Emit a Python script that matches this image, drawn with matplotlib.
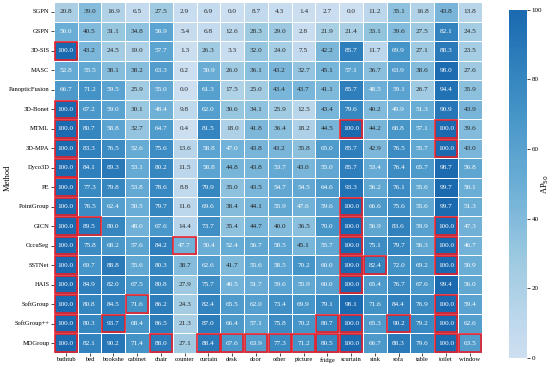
import matplotlib
matplotlib.use("Agg")
import matplotlib.pyplot as plt
import numpy as np
import pandas as pd
import seaborn as sns
from matplotlib.colors import LinearSegmentedColormap
from matplotlib.patches import Rectangle

plt.rcParams['font.family'] = ['Liberation Serif', 'DejaVu Serif']

methods = ['SGPN', 'GSPN', '3D-SIS', 'MASC', 'PanopticFusion', '3D-Bonet', 'MTML',
           '3D-MPA', 'Dyco3D', 'PE', 'PointGroup', 'GICN', 'OccuSeg', 'SSTNet',
           'HAIS', 'SoftGroup', 'SoftGroup++', 'MDGroup']
classes = ['bathtub', 'bed', 'bookshe', 'cabinet', 'chair', 'counter', 'curtain', 'desk',
           'door', 'other', 'picture', 'fridge', 'scurtain', 'sink', 'sofa', 'table',
           'toilet', 'window']

sgpn = [20.8, 39.0, 16.9, 6.5, 27.5, 2.9, 6.9, 0.0, 8.7, 4.3, 1.4, 2.7, 0.0, 11.2, 35.1, 16.8, 43.8, 13.8]
gspn = [50.0, 40.5, 31.1, 34.8, 58.9, 5.4, 6.8, 12.6, 28.3, 29.0, 2.8, 21.9, 21.4, 33.1, 39.6, 27.5, 82.1, 24.5]
sis3d = [100.0, 43.2, 24.5, 19.0, 57.7, 1.3, 26.3, 3.3, 32.0, 24.0, 7.5, 42.2, 85.7, 11.7, 69.9, 27.1, 88.3, 23.5]
masc = [52.8, 55.5, 38.1, 38.2, 63.3, 0.2, 50.9, 26.0, 36.1, 43.2, 32.7, 45.1, 57.1, 36.7, 63.9, 38.6, 98.0, 27.6]
panoptic = [66.7, 71.2, 59.5, 25.9, 55.0, 0.0, 61.3, 17.5, 25.0, 43.4, 43.7, 41.1, 85.7, 48.5, 59.1, 26.7, 94.4, 35.9]
bonet = [100.0, 67.2, 59.0, 30.1, 48.4, 9.8, 62.0, 30.6, 34.1, 25.9, 12.5, 43.4, 79.6, 40.2, 49.9, 51.3, 90.9, 43.9]
mtml = [100.0, 80.7, 58.8, 32.7, 64.7, 0.4, 81.5, 18.0, 41.8, 36.4, 18.2, 44.5, 100.0, 44.2, 68.8, 57.1, 100.0, 39.6]
mpa3d = [100.0, 83.3, 76.5, 52.6, 75.6, 13.6, 58.8, 47.0, 43.8, 43.2, 35.8, 65.0, 85.7, 42.9, 76.5, 55.7, 100.0, 43.0]
dyco = [100.0, 84.1, 89.3, 53.1, 80.2, 11.5, 58.8, 44.8, 43.8, 53.7, 43.0, 55.0, 85.7, 53.4, 76.4, 65.7, 98.7, 56.8]
pe = [100.0, 77.3, 79.8, 53.8, 78.6, 8.8, 79.9, 35.0, 43.5, 54.7, 54.5, 64.6, 93.3, 56.2, 76.1, 55.6, 99.7, 50.1]
pointgroup = [100.0, 76.5, 62.4, 50.5, 79.7, 11.6, 69.6, 38.4, 44.1, 55.9, 47.6, 59.6, 100.0, 66.6, 75.6, 55.6, 99.7, 51.3]
gicn = [100.0, 89.5, 80.0, 48.0, 67.6, 14.4, 73.7, 35.4, 44.7, 40.0, 36.5, 70.0, 100.0, 56.9, 83.6, 59.9, 100.0, 47.3]
occuseg = [100.0, 75.8, 68.2, 57.6, 84.2, 47.7, 50.4, 52.4, 56.7, 58.5, 45.1, 55.7, 100.0, 75.1, 79.7, 56.3, 100.0, 46.7]
sstnet = [100.0, 69.7, 88.8, 55.6, 80.3, 38.7, 62.6, 41.7, 55.6, 58.5, 70.2, 60.0, 100.0, 82.4, 72.0, 69.2, 100.0, 50.9]
hais = [100.0, 84.9, 82.0, 67.5, 80.8, 27.9, 75.7, 46.5, 51.7, 59.6, 55.9, 60.0, 100.0, 65.4, 76.7, 67.6, 99.4, 56.0]
softgroup = [100.0, 80.8, 84.5, 71.6, 86.2, 24.3, 82.4, 65.5, 62.0, 73.4, 69.9, 79.1, 98.1, 71.6, 84.4, 76.9, 100.0, 59.4]
softgroup_pp = [100.0, 80.3, 93.7, 68.4, 86.5, 21.3, 87.0, 66.4, 57.1, 75.8, 70.2, 80.7, 100.0, 65.3, 90.2, 79.2, 100.0, 62.6]
mdgroup = [100.0, 82.1, 90.2, 71.4, 88.0, 27.1, 88.4, 67.6, 63.9, 77.3, 71.2, 80.5, 100.0, 66.7, 88.3, 79.6, 100.0, 63.5]

# cells outlined in red (best results)
boxed = [
    ('3D-SIS', 'bathtub'), ('3D-Bonet', 'bathtub'),
    ('MTML', 'bathtub'), ('MTML', 'scurtain'), ('MTML', 'toilet'),
    ('3D-MPA', 'bathtub'), ('3D-MPA', 'toilet'),
    ('Dyco3D', 'bathtub'), ('PE', 'bathtub'),
    ('PointGroup', 'bathtub'), ('PointGroup', 'scurtain'),
    ('GICN', 'bathtub'), ('GICN', 'bed'), ('GICN', 'scurtain'), ('GICN', 'toilet'),
    ('OccuSeg', 'bathtub'), ('OccuSeg', 'counter'), ('OccuSeg', 'scurtain'), ('OccuSeg', 'toilet'),
    ('SSTNet', 'bathtub'), ('SSTNet', 'scurtain'), ('SSTNet', 'sink'), ('SSTNet', 'toilet'),
    ('HAIS', 'bathtub'), ('HAIS', 'scurtain'),
    ('SoftGroup', 'bathtub'), ('SoftGroup', 'cabinet'), ('SoftGroup', 'toilet'),
    ('SoftGroup++', 'bathtub'), ('SoftGroup++', 'bookshe'), ('SoftGroup++', 'fridge'),
    ('SoftGroup++', 'scurtain'), ('SoftGroup++', 'sofa'), ('SoftGroup++', 'toilet'),
    ('MDGroup', 'bathtub'), ('MDGroup', 'chair'), ('MDGroup', 'curtain'), ('MDGroup', 'desk'),
    ('MDGroup', 'door'), ('MDGroup', 'other'), ('MDGroup', 'picture'), ('MDGroup', 'fridge'),
    ('MDGroup', 'scurtain'), ('MDGroup', 'toilet'), ('MDGroup', 'window'),
]

df = pd.DataFrame([sgpn, gspn, sis3d, masc, panoptic, bonet, mtml, mpa3d, dyco, pe,
                   pointgroup, gicn, occuseg, sstnet, hais, softgroup, softgroup_pp, mdgroup],
                  index=methods, columns=classes)

cmap = LinearSegmentedColormap.from_list('blues_cut', plt.cm.Blues(np.linspace(0.22, 0.78, 256)))

fig = plt.figure(figsize=(5.5, 3.66), dpi=100)
ax = fig.add_axes([0.098, 0.036, 0.778, 0.958])
cax = fig.add_axes([0.925, 0.022, 0.033, 0.951])

sns.heatmap(df, ax=ax, cbar_ax=cax, cmap=cmap, vmin=0, vmax=100, annot=True, fmt='.1f',
            annot_kws={'fontsize': 5.2}, linewidths=0.5, linecolor='white',
            cbar_kws={'label': 'AP$_{50}$'})

for m, c in boxed:
    r = methods.index(m)
    k = classes.index(c)
    ax.add_patch(Rectangle((k + 0.03, r + 0.05), 0.94, 0.9, fill=False,
                           edgecolor='#e8202a', linewidth=1.2, zorder=5))

ax.set_ylabel('Method', fontsize=6)
ax.yaxis.set_label_coords(-0.098, 0.5)
ax.tick_params(axis='both', labelsize=4.7, length=2, width=0.5, pad=1.2)
plt.setp(ax.get_xticklabels(), rotation=0)
plt.setp(ax.get_yticklabels(), rotation=0)
cax.tick_params(labelsize=5, length=2, width=0.5, pad=1.5)
cax.set_yticks([0, 20, 40, 60, 80, 100])
cax.set_ylabel('AP$_{50}$', fontsize=6)
cax.yaxis.set_label_coords(1.72, 0.5)

fig.savefig('out.png', dpi=100)
